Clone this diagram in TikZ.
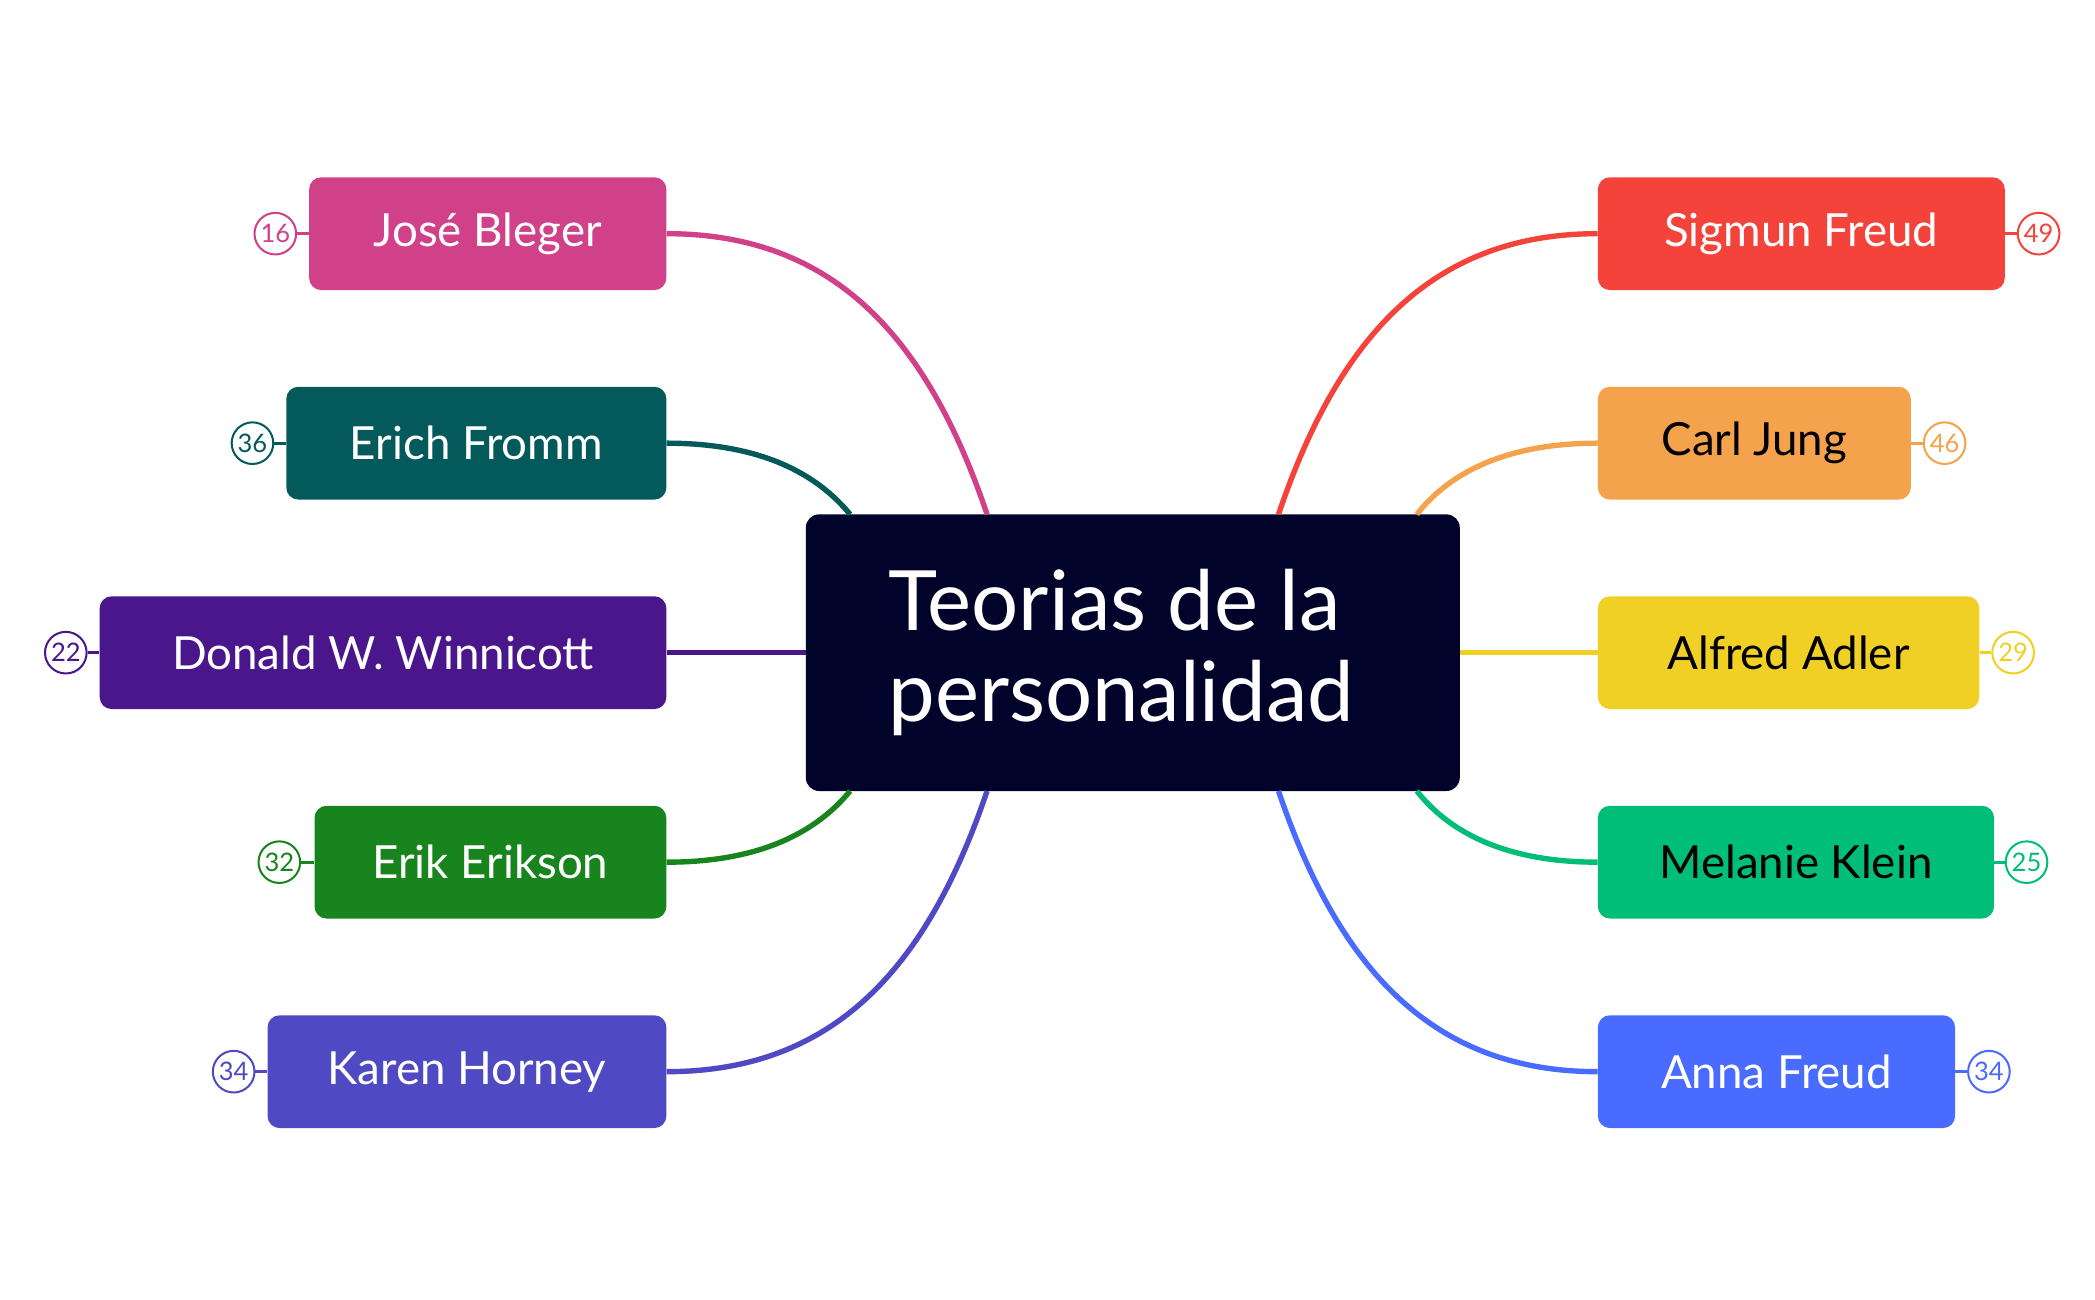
\documentclass[tikz,border=0pt]{standalone}
\usepackage{fontspec}
\setmainfont{Lato}
\definecolor{cA}{HTML}{D04189}\definecolor{cB}{HTML}{045A5A}\definecolor{cC}{HTML}{4A168C}
\definecolor{cD}{HTML}{18841E}\definecolor{cE}{HTML}{4F4AC4}\definecolor{cF}{HTML}{F4433B}
\definecolor{cG}{HTML}{F5A24C}\definecolor{cH}{HTML}{F0D024}\definecolor{cI}{HTML}{00BE78}
\definecolor{cJ}{HTML}{4A6BFF}\definecolor{cen}{HTML}{02032A}
\tikzset{bx/.style={rounded corners=9pt,minimum height=84pt,inner sep=0pt,font=\fontsize{34}{40}\selectfont},
num/.style={circle,draw,line width=1.5pt,minimum size=31pt,inner sep=0pt,font=\fontsize{19}{20}\selectfont,fill=white},
con/.style={line width=4pt}}
\begin{document}
\begin{tikzpicture}[x=1pt,y=-1pt]
\useasboundingbox (0,0) rectangle (1560,968);
% center
\node[fill=cen,rounded corners=10pt,minimum width=487pt,minimum height=206pt,inner sep=0pt] (c) at (843.5,486) {};
\node[anchor=west,text=white,align=left,font=\fontsize{62}{68}\selectfont] at (658,486) {Teorias de la\\personalidad};
\coordinate (l1) at (735,383);\coordinate (l2) at (633,383);\coordinate (l3) at (600,486);
\coordinate (l4) at (633,589);\coordinate (l5) at (735,589);
\coordinate (r1) at (952,383);\coordinate (r2) at (1055,383);\coordinate (r3) at (1087,486);
\coordinate (r4) at (1055,589);\coordinate (r5) at (952,589);
% left boxes
\foreach \n/\x/\y/\c/\t/\nx/\v in {a/230/174/cA/José Bleger/205/16, b/213/330/cB/Erich Fromm/188/36, c3/74/486/cC/Donald W. Winnicott/49/22, d/234/642/cD/Erik Erikson/208/32, e/199/798/cE/Karen Horney/174/34}{
 \node[bx,fill=\c,text=white,minimum width={496-\x},anchor=west] (\n) at (\x,\y) {\t};
 \node[num,draw=\c,text=\c] (n\n) at (\nx,\y) {\v};
 \draw[\c,line width=2pt] (n\n) -- (\n);
}
\foreach \n/\x/\y/\c/\t/\nx/\v/\tc in {f/1493/174/cF/Sigmun Freud/1518/49/white, g/1423/330/cG/Carl Jung/1448/46/black, h/1474/486/cH/Alfred Adler/1499/29/black, i/1485/642/cI/Melanie Klein/1509/25/black, j/1456/798/cJ/Anna Freud/1481/34/white}{
 \node[bx,fill=\c,text=\tc,minimum width={\x-1190},anchor=east] (\n) at (\x,\y) {\t};
 \node[num,draw=\c,text=\c] (n\n) at (\nx,\y) {\v};
 \draw[\c,line width=2pt] (n\n) -- (\n);
}
\begin{scope}[on background layer/.style={}]
\end{scope}
\draw[con,cA] (l1) .. controls (690,250) and (620,174) .. (a.east);
\draw[con,cB] (l2) .. controls (610,355) and (570,330) .. (b.east);
\draw[con,cC] (l3) -- (c3.east);
\draw[con,cD] (l4) .. controls (610,617) and (570,642) .. (d.east);
\draw[con,cE] (l5) .. controls (690,722) and (620,798) .. (e.east);
\draw[con,cF] (r1) .. controls (997,250) and (1067,174) .. (f.west);
\draw[con,cG] (r2) .. controls (1077,355) and (1117,330) .. (g.west);
\draw[con,cH] (r3) -- (h.west);
\draw[con,cI] (r4) .. controls (1077,617) and (1117,642) .. (i.west);
\draw[con,cJ] (r5) .. controls (997,722) and (1067,798) .. (j.west);
\end{tikzpicture}
\end{document}
